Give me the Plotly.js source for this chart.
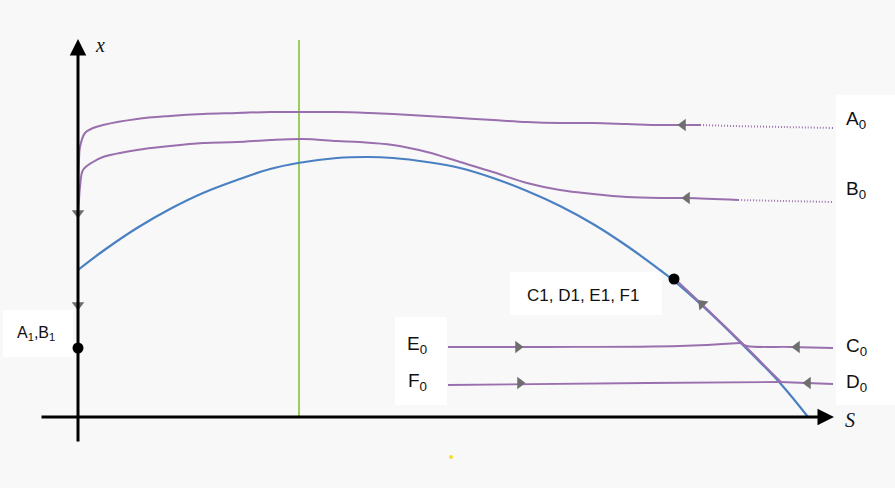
<!DOCTYPE html>
<html><head><meta charset="utf-8">
<script src="https://cdn.plot.ly/plotly-3.0.1.min.js"></script>
<style>body{margin:0;background:#f8f8f8}#c{width:895px;height:488px}</style>
</head><body><div id="c"></div>
<script>
// Nullcline (blue)
const nullS = [0,25,59,92,125,159,192,220,259,290,315,349,382,415,449,482,515,549,582,595,630,662,702,730];
const nullX = [147,166,189,208,224,237,248,254,259,260,259,255,249,239,226,211,193,171,147,137,106,75,34,0];
// Trajectory A (solid part + dotted tail)
const aS = [0,1,2,7,15,25,59,92,125,159,192,225,259,292,315,349,382,415,449,482,515,549,582,605,622];
const aX = [204,257,270,284,289,292,298,301,303,304,305,305,305,304,303,301,299,297,295,294,294,293,292,292,292];
const aTailS = [622,655,705,755];
const aTailX = [292,291,290,289];
// Trajectory B
const bS = [0,1,2,5,15,25,59,92,125,159,192,225,259,282,315,349,382,415,449,482,515,549,582,609,660];
const bX = [204,217,230,247,255,260,267,271,274,275,277,278,276,275,272,265,255,245,234,227,223,220,219,219,217];
const bTailS = [660,705,755];
const bTailX = [217,216,215];
// E0 -> crossing, C0 -> crossing
const eS = [370,469,602,662];
const eX = [70,70,71,74];
const cS = [755,712,669,662];
const cX = [69,70,71,74];
// F0 -> crossing, D0 -> crossing
const fS = [370,569,702];
const fX = [32,34,35];
const dS = [755,702];
const dX = [33,35];
// shared path up the nullcline to C1..F1
const upS = [703,663,631,597];
const upX = [35,75,106,138];
// equilibria
const eqS = [0,596];
const eqX = [69,138];
// direction arrows
const arS = [605,609,440,442,719,730,624,0,0];
const arX = [292,219,70,34,70,34,113,204,112];
const arAng = [-90,-90,90,90,-90,-90,-45,180,180];
// vertical line
const vS = [221,221];
const vX = [0,377];

const purple = '#9a6fae', blue = '#4a80c2';
const pl = (s,x,dash,w)=>({x:s,y:x,mode:'lines',type:'scatter',hoverinfo:'skip',
  line:{color:purple,width:w||2,dash:dash||'solid',shape:'spline',smoothing:1}});

const traces = [
  {x:vS,y:vX,mode:'lines',line:{color:'#9ccc5c',width:2}},
  {x:nullS,y:nullX,mode:'lines',line:{color:blue,width:2.2,shape:'spline',smoothing:1}},
  pl(aS,aX), pl(aTailS,aTailX,'1px,2px',2),
  pl(bS,bX), pl(bTailS,bTailX,'1px,2px',2),
  pl(eS,eX,'solid',1.8), pl(cS,cX,'solid',1.8),
  pl(fS,fX,'solid',1.8), pl(dS,dX,'solid',1.8),
  pl(upS,upX,'solid',1.8),
  {x:arS,y:arX,mode:'markers',marker:{symbol:'triangle-up',size:11,color:'#6e6e6e',angle:arAng,line:{width:0}}},
  {x:eqS,y:eqX,mode:'markers',marker:{size:11,color:'#000'}},
  {x:[373],y:[-40],mode:'markers',marker:{size:4,color:'#f5dd30'}}
];

const sans = {family:'Liberation Sans, Arial, sans-serif',size:19,color:'#111'};
const lab = (t,s,x,sz)=>({text:t,x:s,y:x,xref:'x',yref:'y',showarrow:false,font:Object.assign({},sans,{size:sz||19})});
const annotations = [
  {x:0,y:378,ax:0,ay:-26,xref:'x',yref:'y',axref:'x',ayref:'y',showarrow:true,arrowhead:2,arrowsize:1.1,arrowwidth:3,arrowcolor:'#000',text:''},
  {x:756,y:0,ax:-38,ay:0,xref:'x',yref:'y',axref:'x',ayref:'y',showarrow:true,arrowhead:2,arrowsize:1.1,arrowwidth:3,arrowcolor:'#000',text:''},
  {text:'x',x:22,y:372,xref:'x',yref:'y',showarrow:false,font:{family:'Liberation Serif, DejaVu Serif, serif',size:20,style:'italic',color:'#111'}},
  {text:'S',x:772,y:-3,xref:'x',yref:'y',showarrow:false,font:{family:'Liberation Serif, DejaVu Serif, serif',size:20,style:'italic',color:'#111'}},
  lab('A<sub>0</sub>',778,297), lab('B<sub>0</sub>',778,227),
  lab('C<sub>0</sub>',778,70), lab('D<sub>0</sub>',778,34),
  lab('E<sub>0</sub>',339,72), lab('F<sub>0</sub>',339,35),
  lab('A<sub>1</sub>,B<sub>1</sub>',-42,84,16),
  lab('C1, D1, E1, F1',505,122,17)
];
const box = (x0,x1,y0,y1)=>({type:'rect',xref:'x',yref:'y',x0:x0,x1:x1,y0:y0,y1:y1,fillcolor:'#ffffff',line:{width:0},layer:'below'});
const shapes = [box(-75,-5,60,107), box(432,584,102,145), box(317,369,12,100), box(758,817,12,322)];

Plotly.newPlot('c', traces, {
  width:895,height:488,margin:{l:0,r:0,t:0,b:0},
  paper_bgcolor:'#f8f8f8',plot_bgcolor:'#f8f8f8',showlegend:false,
  xaxis:{range:[-78,817],visible:false,fixedrange:true},
  yaxis:{range:[-71,417],visible:false,fixedrange:true},
  annotations:annotations,shapes:shapes
},{staticPlot:true});
</script></body></html>
